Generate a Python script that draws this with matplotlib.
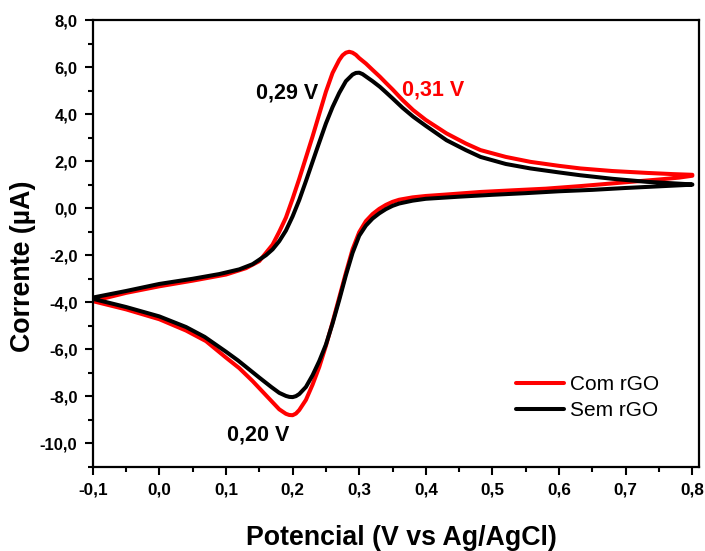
import matplotlib
matplotlib.use("Agg")
import matplotlib.pyplot as plt
import numpy as np

plt.rcParams["font.family"] = ["Liberation Sans", "DejaVu Sans"]

# voltammograms: forward scan then reverse scan (V, µA)
com_fwd_x = [-0.10, -0.05, 0.00, 0.05, 0.10, 0.13, 0.15, 0.17, 0.18, 0.19, 0.20, 0.21, 0.22, 0.23,
             0.24, 0.25, 0.26, 0.27, 0.275, 0.28, 0.285, 0.29, 0.295, 0.30, 0.31, 0.32, 0.331, 0.34,
             0.35, 0.365, 0.381, 0.40, 0.431, 0.46, 0.482, 0.52, 0.557, 0.60, 0.632, 0.68, 0.732,
             0.77, 0.80]
com_fwd_y = [-3.95, -3.60, -3.32, -3.08, -2.82, -2.55, -2.25, -1.55, -1.00, -0.40, 0.40, 1.25, 2.15, 3.05,
             4.00, 4.95, 5.75, 6.30, 6.50, 6.61, 6.65, 6.61, 6.52, 6.38, 6.15, 5.88, 5.59, 5.33,
             5.05, 4.60, 4.17, 3.75, 3.18, 2.75, 2.47, 2.18, 1.97, 1.80, 1.69, 1.58, 1.50,
             1.45, 1.42]
com_rev_x = [0.80, 0.78, 0.75, 0.707, 0.67, 0.632, 0.58, 0.53, 0.482, 0.43, 0.40, 0.38, 0.36, 0.35,
             0.34, 0.33, 0.32, 0.31, 0.30, 0.29, 0.28, 0.27, 0.26, 0.25, 0.24, 0.23, 0.22, 0.21, 0.205,
             0.20, 0.195, 0.19, 0.18, 0.17, 0.16, 0.14, 0.12, 0.10, 0.07, 0.04, 0.00, -0.05, -0.10]
com_rev_y = [1.38, 1.30, 1.22, 1.12, 1.03, 0.94, 0.83, 0.76, 0.69, 0.58, 0.52, 0.46, 0.36, 0.27,
             0.14, -0.03, -0.25, -0.55, -1.02, -1.75, -2.75, -3.80, -4.85, -5.85, -6.75, -7.50, -8.15, -8.58, -8.73,
             -8.80, -8.79, -8.74, -8.55, -8.25, -7.95, -7.35, -6.80, -6.35, -5.65, -5.20, -4.72, -4.30, -3.95]

sem_fwd_x = [-0.10, -0.05, 0.00, 0.05, 0.09, 0.12, 0.14, 0.16, 0.17, 0.18, 0.19, 0.20, 0.21, 0.22,
             0.236, 0.25, 0.26, 0.27, 0.28, 0.29, 0.295, 0.30, 0.305, 0.31, 0.32, 0.331, 0.34, 0.35,
             0.365, 0.381, 0.40, 0.431, 0.46, 0.482, 0.52, 0.557, 0.60, 0.632, 0.68, 0.732, 0.77, 0.80]
sem_fwd_y = [-3.80, -3.52, -3.22, -3.00, -2.80, -2.60, -2.38, -2.00, -1.75, -1.40, -0.95, -0.35, 0.35, 1.15,
             2.47, 3.60, 4.30, 4.90, 5.40, 5.68, 5.75, 5.76, 5.70, 5.60, 5.40, 5.16, 4.93, 4.67,
             4.27, 3.89, 3.50, 2.89, 2.47, 2.18, 1.88, 1.69, 1.52, 1.40, 1.25, 1.12, 1.06, 1.01]
sem_rev_x = [0.80, 0.75, 0.70, 0.65, 0.60, 0.55, 0.50, 0.45, 0.40, 0.38, 0.36, 0.35, 0.34, 0.33, 0.32,
             0.31, 0.30, 0.29, 0.28, 0.27, 0.26, 0.25, 0.24, 0.23, 0.22, 0.21, 0.205, 0.20, 0.195, 0.19,
             0.18, 0.168, 0.15, 0.118, 0.10, 0.068, 0.04, 0.00, -0.05, -0.10]
sem_rev_y = [1.00, 0.93, 0.86, 0.78, 0.72, 0.64, 0.57, 0.49, 0.40, 0.32, 0.20, 0.10, -0.04, -0.22, -0.44,
             -0.74, -1.17, -1.90, -2.85, -3.90, -4.90, -5.80, -6.50, -7.10, -7.60, -7.90, -7.99, -8.03, -8.02,
             -7.98, -7.85, -7.60, -7.20, -6.47, -6.10, -5.47, -5.05, -4.60, -4.20, -3.85]

x_ticks = [-0.1, 0.0, 0.1, 0.2, 0.3, 0.4, 0.5, 0.6, 0.7, 0.8]
x_ticklabels = ["-0,1", "0,0", "0,1", "0,2", "0,3", "0,4", "0,5", "0,6", "0,7", "0,8"]
y_ticks = [-10, -8, -6, -4, -2, 0, 2, 4, 6, 8]
y_ticklabels = ["-10,0", "-8,0", "-6,0", "-4,0", "-2,0", "0,0", "2,0", "4,0", "6,0", "8,0"]

fig = plt.figure(figsize=(7.05, 5.51), dpi=100)
ax = fig.add_axes([0.1315, 0.1525, 0.8600, 0.8112])

ax.plot(com_fwd_x + com_rev_x, com_fwd_y + com_rev_y, color="#ff0000", lw=2.9,
        solid_joinstyle="round", solid_capstyle="round", label="Com rGO")
ax.plot(sem_fwd_x + sem_rev_x, sem_fwd_y + sem_rev_y, color="black", lw=2.9,
        solid_joinstyle="round", solid_capstyle="round", label="Sem rGO")

ax.set_xlim(-0.1, 0.81)
ax.set_ylim(-11, 8)
ax.set_xticks(x_ticks)
ax.set_xticklabels(x_ticklabels, fontsize=12.3, fontweight="bold")
ax.set_yticks(y_ticks)
ax.set_yticklabels(y_ticklabels, fontsize=12, fontweight="bold")
ax.set_xticks(np.arange(-0.05, 0.81, 0.1), minor=True)
ax.set_yticks(np.arange(-11, 8, 2), minor=True)
ax.tick_params(which="major", direction="out", length=6, width=1.5, pad=5)
ax.tick_params(which="minor", direction="out", length=3.5, width=1.5)
for s in ax.spines.values():
    s.set_linewidth(1.6)

ax.set_xlabel("Potencial (V vs Ag/AgCl)", fontsize=19.3, fontweight="bold")
ax.xaxis.set_label_coords(0.51, -0.13)
ax.set_ylabel("Corrente (µA)", fontsize=19.3, fontweight="bold")
ax.yaxis.set_label_coords(-0.093, 0.45)

ax.text(0.145, 4.89, "0,29 V", fontsize=15.5, fontweight="bold", color="black", va="center")
ax.text(0.364, 5.02, "0,31 V", fontsize=15.5, fontweight="bold", color="#ff0000", va="center")
ax.text(0.101, -9.66, "0,20 V", fontsize=15.5, fontweight="bold", color="black", va="center")

ax.legend(loc="upper left", bbox_to_anchor=(0.698, 0.206), frameon=False, fontsize=15,
          handlelength=2.3, handletextpad=0.32, borderpad=0, borderaxespad=0, labelspacing=0.35)

fig.savefig("out.png", dpi=100)
